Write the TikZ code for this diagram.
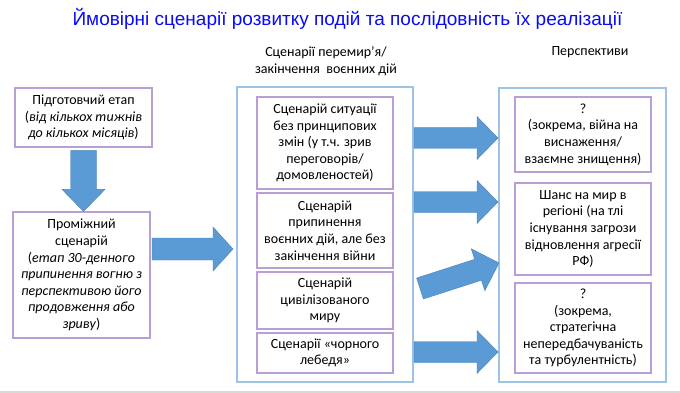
\documentclass[tikz,border=0pt]{standalone}
\usepackage{fontspec}
\setmainfont{Carlito}
\newfontfamily\titlefont{Liberation Sans}
\usetikzlibrary{calc}
\definecolor{boxline}{RGB}{184,160,214}
\definecolor{frameline}{RGB}{157,195,230}
\definecolor{arrowblue}{RGB}{91,155,213}
\definecolor{arrowedge}{RGB}{72,126,182}
\definecolor{titleblue}{RGB}{10,10,250}
\definecolor{slidegray}{RGB}{217,217,217}

% товста стрілка: початок, кінець, пів ширини тіла, пів ширини голови, довжина голови
\newcommand{\bigarrow}[5]{%
  \coordinate (ah) at ($(#2)!#5!(#1)$);
  \filldraw[fatarrow] ($(#1)!#3!90:(#2)$) -- ($(ah)!#3!90:(#2)$) -- ($(ah)!#4!90:(#2)$)
    -- (#2) -- ($(ah)!#4!-90:(#2)$) -- ($(ah)!#3!-90:(#2)$) -- ($(#1)!#3!-90:(#2)$) -- cycle;}

\begin{document}
\begin{tikzpicture}[x=1pt,y=-1pt,
    txt/.style={font=\fontsize{14}{16.6}\selectfont, align=center, inner sep=0pt},
    stagebox/.style={txt, draw=boxline, line width=1.2pt, minimum width=136pt},
    framebox/.style={draw=frameline, line width=1.2pt},
    fatarrow/.style={fill=arrowblue, draw=arrowedge, line width=0.4pt}]
        \useasboundingbox (0,0) rectangle (680,393);

        % Заголовок
        \node[anchor=base, text=titleblue, font=\titlefont\fontsize{19}{23}\selectfont] (title) at (347.5,26)
            {Ймовірні сценарії розвитку подій та послідовність їх реалізації};

        % Підписи колонок
        \node[txt, font=\fontsize{14}{17}\selectfont] (midhead) at (326,61) {Сценарії перемир'я/\\закінчення\ \ воєнних дій};
        \node[txt, anchor=base] (righthead) at (590,56) {Перспективи};

        % Ліва колонка
        \node[stagebox, minimum width=137pt, minimum height=59pt] (prep) at (83.5,117.5)
            {Підготовчий етап\\(\textit{від кількох тижнів}\\\textit{до кількох місяців})};
        \node[stagebox, minimum width=137pt, minimum height=126pt] (inter) at (81.5,275)
            {Проміжний\\сценарій\\(\textit{етап 30-денного}\\\textit{припинення вогню з}\\\textit{перспективою його}\\\textit{продовження або}\\\textit{зриву})};

        % Середня колонка
        \node[framebox, minimum width=176pt, minimum height=295pt] (mid) at (325,234.5) {};
        \node[stagebox, minimum height=92pt] (sa) at (325,143)
            {Сценарій ситуації\\без принципових\\змін (у т.ч. зрив\\переговорів/\\домовленостей)};
        \node[stagebox, minimum height=75pt] (sb) at (325,230.5)
            {Сценарій\\припинення\\воєнних дій, але без\\закінчення війни};
        \node[stagebox, minimum height=57pt] (sc) at (325,300.5)
            {Сценарій\\цивілізованого\\миру};
        \node[stagebox, minimum height=40pt] (sd) at (325,353)
            {Сценарії «чорного\\лебедя»};

        % Права колонка
        \node[framebox, minimum width=167pt, minimum height=294pt] (persp) at (582.5,235) {};
        \node[stagebox, minimum height=75pt] (pa) at (583,134.5)
            {?\\(зокрема, війна на\\виснаження/\\взаємне знищення)};
        \node[stagebox, minimum height=92pt] (pb) at (583,229)
            {Шанс на мир в\\регіоні (на тлі\\існування загрози\\відновлення агресії\\РФ)};
        \node[stagebox, minimum height=90pt] (pc) at (583,328)
            {?\\(зокрема,\\стратегічна\\непередбачуваність\\та турбулентність)};

        % Кінці стрілок
        \coordinate (d1) at ($(prep.south)+(0,3)$);
        \coordinate (d2) at (prep.south |- inter.north);
        \coordinate (r1) at (152,249);
        \coordinate (r2) at (233,249);
        \coordinate (a1) at (414,138);  \coordinate (b1) at (498,138);
        \coordinate (a2) at (414,202);  \coordinate (b2) at (498,202);
        \coordinate (a3) at (420,288.5);\coordinate (b3) at (499,263);
        \coordinate (a4) at (414,352);  \coordinate (b4) at (498,352);

        % Стрілки
        \bigarrow{d1}{d2}{13pt}{21.5pt}{22pt}
        \bigarrow{r1}{r2}{11pt}{22pt}{20pt}
        \bigarrow{a1}{b1}{10.5pt}{21.5pt}{21pt}
        \bigarrow{a2}{b2}{10.5pt}{21.5pt}{21pt}
        \bigarrow{a3}{b3}{11pt}{22pt}{22pt}
        \bigarrow{a4}{b4}{10.5pt}{21.5pt}{21pt}

        % Нижня смуга
        \draw[slidegray, line width=1.5pt] (0,392) -- (680,392);
    \end{tikzpicture}
\end{document}
